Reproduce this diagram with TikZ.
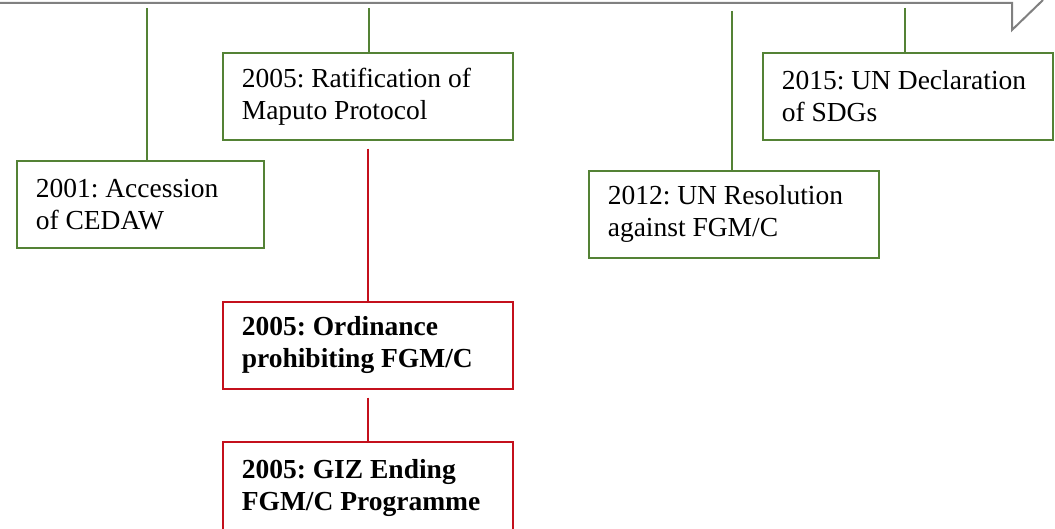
\documentclass[tikz,border=0pt]{standalone}
\usepackage{fontspec}
\setmainfont{Liberation Serif}
\usepackage{tikz}
\usetikzlibrary{positioning}
\definecolor{boxGreen}{RGB}{84,130,53}
\definecolor{boxRed}{RGB}{196,16,28}
\definecolor{lineGray}{RGB}{128,128,128}
\begin{document}
\frenchspacing
\begin{tikzpicture}[x = 1pt, y = -1pt]
	\tikzstyle{boxStyle} = [anchor = north west, draw, line width = 1.6pt, fill = white, inner xsep = 19pt, align = flush left, minimum height = 87pt, font = \fontsize{27.5}{32}\selectfont]
	\tikzstyle{greenStyle} = [boxStyle, draw = boxGreen, text width = 252pt]
	\tikzstyle{redStyle} = [boxStyle, draw = boxRed, text width = 252pt, font = \fontsize{27.5}{32}\selectfont\bfseries]
	\tikzstyle{greenLine} = [draw = boxGreen, line width = 1.6pt]
	\tikzstyle{redLine} = [draw = boxRed, line width = 1.6pt, shorten <= 8pt]
	\useasboundingbox (0, 0) rectangle (1055, 529);
	% timeline arrow
	\draw[lineGray, line width = 2pt] (0, 3) -- (1012, 3) -- (1012, 30) -- (1043, 0);
	% events
	\node[greenStyle, text width = 209pt] (cedaw) at (16, 160) {2001: Accession\\of CEDAW};
	\node[greenStyle] (maputo) at (222, 52) {2005: Ratification of\\Maputo Protocol};
	\node[greenStyle] (unres) at (588, 170) {2012: UN Resolution\\against FGM/C};
	\node[greenStyle] (sdgs) at (762, 52) {2015: UN Declaration\\of SDGs};
	\node[redStyle] (ordinance) at (222, 301) {2005: Ordinance\\prohibiting FGM/C};
	\node[redStyle, minimum height = 92pt] (giz) at (222, 441) {2005: GIZ Ending\\FGM/C Programme};
	% ticks
	\coordinate (t1) at (147, 8);
	\coordinate (t2) at (369, 8);
	\coordinate (t3) at (732, 11);
	\coordinate (t4) at (905, 8);
	\draw[greenLine] (t1) -- (t1 |- cedaw.north);
	\draw[greenLine] (t2) -- (t2 |- maputo.north);
	\draw[greenLine] (t3) -- (t3 |- unres.north);
	\draw[greenLine] (t4) -- (t4 |- sdgs.north);
	\draw[redLine] (maputo.south) -- (ordinance.north);
	\draw[redLine] (ordinance.south) -- (giz.north);
\end{tikzpicture}
\end{document}
